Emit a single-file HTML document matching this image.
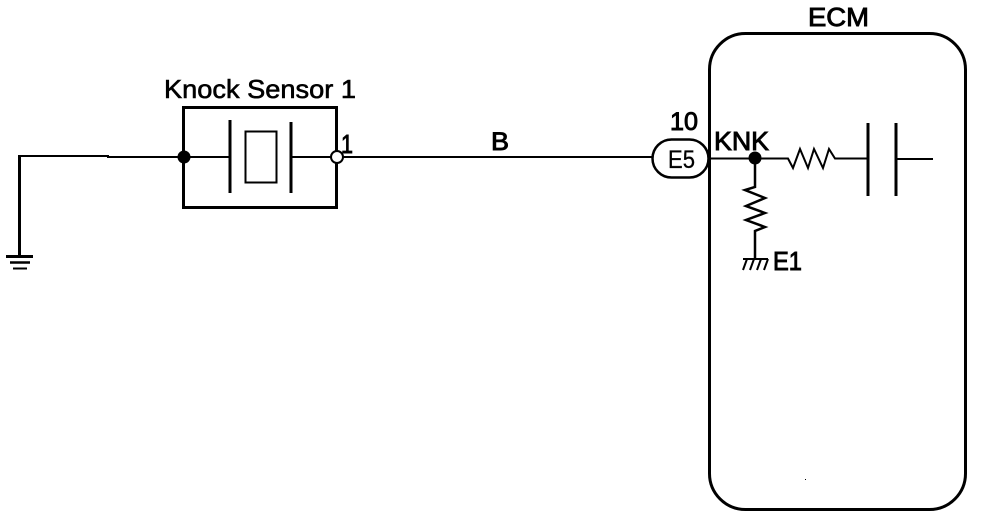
<!DOCTYPE html>
<html>
<head>
<meta charset="utf-8">
<style>
html,body{margin:0;padding:0;background:#fff;}
svg{display:block;}
text{font-family:"Liberation Sans",sans-serif;fill:#000;stroke:#000;stroke-width:.9px;}
</style>
</head>
<body>
<svg width="992" height="518" viewBox="0 0 992 518" xmlns="http://www.w3.org/2000/svg">
<g fill="none" stroke="#000" stroke-width="2" stroke-linejoin="miter">
  <!-- ground and left wire -->
  <path d="M19.5 255V156" stroke-width="3"/>
  <path d="M18 156H108V157H230"/>
  <path d="M6 256.500H33" stroke-width="3"/>
  <path d="M10 262.500H30" stroke-width="2.500"/>
  <path d="M13 268.500H27" stroke-width="2"/>
  <!-- sensor box -->
  <rect x="183.500" y="107.500" width="153" height="100" stroke-width="3"/>
  <path d="M230 120V193" stroke-width="3"/>
  <rect x="245.500" y="131.500" width="31" height="51"/>
  <path d="M291 122V193" stroke-width="3"/>
  <path d="M291 157H331"/>
  <!-- main wire -->
  <path d="M343 157H652"/>
  <!-- connector -->
  <rect x="652.500" y="139.500" width="56" height="38" rx="19" ry="19" stroke-width="2.500"/>
  <!-- ECM box -->
  <rect x="709.500" y="33.500" width="256" height="476" rx="36" ry="36" stroke-width="3"/>
  <!-- internal wires -->
  <path d="M709 158.500H788L793 168L800 149L808 168L814 149L823 168L829 149L835 158.500H868"/>
  <path d="M868 123V196" stroke-width="3"/>
  <path d="M896 123V196" stroke-width="3"/>
  <path d="M896 159H933"/>
  <path d="M755 158V187L745 190L765 198L746 206L765 213L746 220L765 227L755 231V259" stroke-width="2.500"/>
  <path d="M743 259H768M747 259L743 270M754 259L750 270M761 259L757 270M768 259L764 270"/>
</g>
<circle cx="184" cy="157" r="6.500" fill="#000"/>
<circle cx="337" cy="157" r="6" fill="#fff" stroke="#000" stroke-width="2"/>
<circle cx="755" cy="158" r="6.500" fill="#000"/>
<rect x="805" y="479" width="1" height="1" fill="#000"/>
<text x="164" y="98" font-size="26" textLength="192" lengthAdjust="spacingAndGlyphs" style="stroke-width:.6px">Knock Sensor 1</text>
<text x="341" y="153" font-size="26" textLength="12" lengthAdjust="spacingAndGlyphs">1</text>
<text x="491" y="150" font-size="25" textLength="18" lengthAdjust="spacingAndGlyphs">B</text>
<text x="670" y="130" font-size="25" textLength="28" lengthAdjust="spacingAndGlyphs">10</text>
<text x="668" y="168" font-size="25" textLength="27" lengthAdjust="spacingAndGlyphs" style="stroke-width:.3px">E5</text>
<text x="714" y="150" font-size="26" textLength="55" lengthAdjust="spacingAndGlyphs">KNK</text>
<text x="808" y="26" font-size="26" textLength="61" lengthAdjust="spacingAndGlyphs">ECM</text>
<text x="773" y="270" font-size="26" textLength="29" lengthAdjust="spacingAndGlyphs">E1</text>
</svg>
</body>
</html>
